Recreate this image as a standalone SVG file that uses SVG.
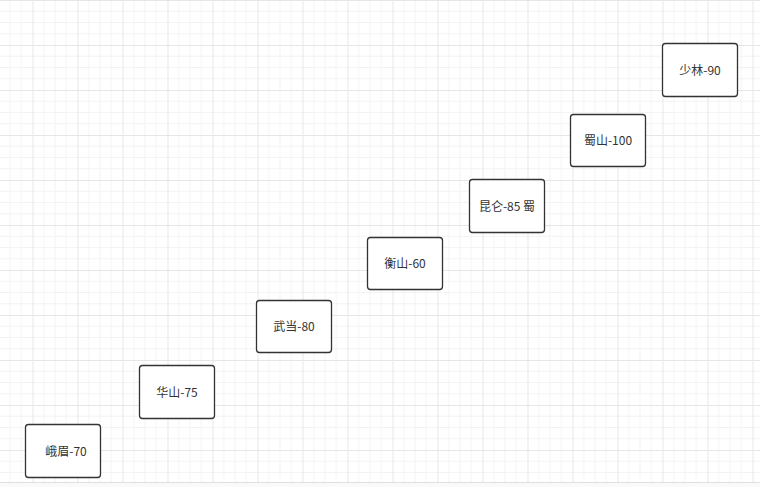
<svg xmlns="http://www.w3.org/2000/svg" width="760" height="487" viewBox="0 0 760 487">
<style>
.node rect{fill:#ffffff;stroke:#333333;stroke-width:1.3}
.node text{font-family:"Noto Sans CJK SC","Noto Sans",sans-serif;font-size:12px;fill:#333333;text-anchor:middle}
</style>
<defs>
<pattern id="grid" patternUnits="userSpaceOnUse" x="-12.5" y="0" width="45" height="45">
<rect width="45" height="45" fill="#ffffff"/>
<path d="M11.25 0V45M22.5 0V45M33.75 0V45M0 11.25H45M0 22.5H45M0 33.75H45" stroke="#f3f3f3" stroke-width="1" fill="none"/>
<path d="M0.5 0V45M0 0.5H45" stroke="#e6e6e6" stroke-width="1" fill="none"/>
</pattern>
</defs>
<rect x="0" y="0" width="760" height="482" fill="url(#grid)"/>
<rect x="0" y="482" width="760" height="5" fill="#fafafa"/>
<line x1="0" y1="482.5" x2="760" y2="482.5" stroke="#e0e0e0" stroke-width="1"/>
<g id="connectors"></g>
<g id="n-emei" class="node"><rect x="25.5" y="424.5" width="75" height="53" rx="3"/><text x="66" y="455.5">峨眉-70</text></g>
<g id="n-huashan" class="node"><rect x="139.5" y="365.5" width="75" height="53" rx="3"/><text x="177" y="396.5">华山-75</text></g>
<g id="n-wudang" class="node"><rect x="256.5" y="300.5" width="75" height="52" rx="3"/><text x="294" y="331">武当-80</text></g>
<g id="n-hengshan" class="node"><rect x="367.5" y="237.5" width="75" height="52" rx="3"/><text x="405" y="268">衡山-60</text></g>
<g id="n-kunlun" class="node"><rect x="469.5" y="179.5" width="75" height="53" rx="3"/><text x="507" y="210.5">昆仑-85 蜀</text></g>
<g id="n-shushan" class="node"><rect x="570.5" y="114.5" width="75" height="52" rx="3"/><text x="608" y="145">蜀山-100</text></g>
<g id="n-shaolin" class="node"><rect x="662.5" y="43.5" width="75" height="53" rx="3"/><text x="700" y="74.5">少林-90</text></g>
</svg>
